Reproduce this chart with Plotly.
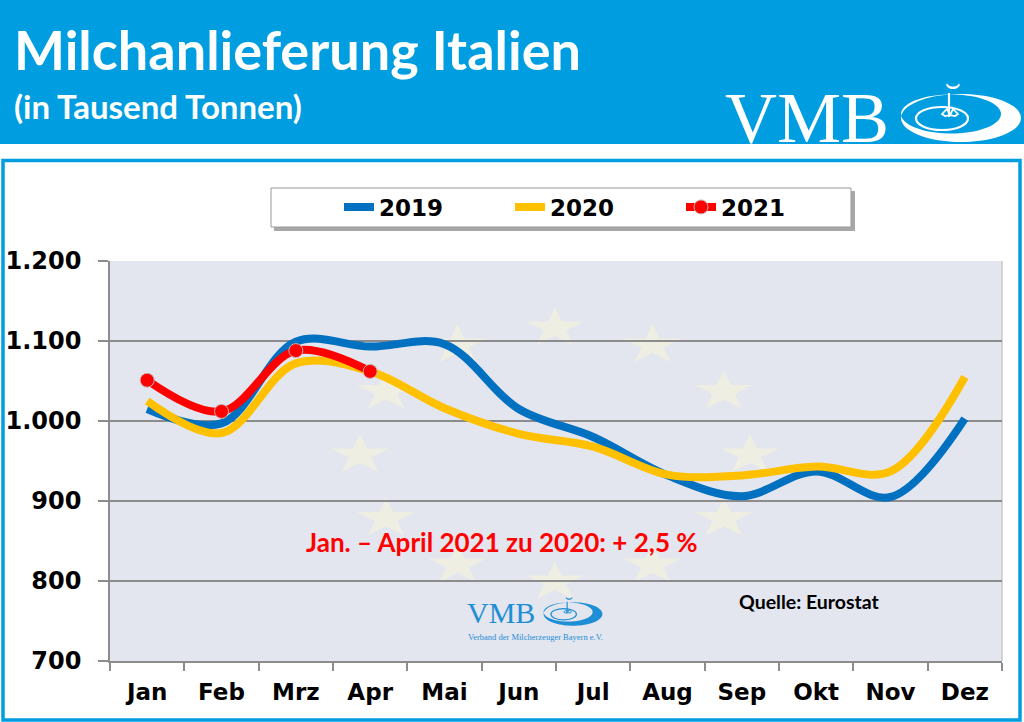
import numpy as np
import plotly.graph_objects as go

# ---------------- data ----------------
months = ["Jan", "Feb", "Mrz", "Apr", "Mai", "Jun", "Jul", "Aug", "Sep", "Okt", "Nov", "Dez"]
v2019 = [1015, 997, 1099, 1093, 1096, 1015, 980, 932, 906, 937, 905, 1003]
v2020 = [1025, 985, 1072, 1062, 1016, 984, 968, 933, 932, 943, 937, 1055]
v2021 = [1051, 1012, 1088, 1062]
y_ticks = [700, 800, 900, 1000, 1100, 1200]

# ---------------- geometry helpers (decoration only) ----------------
W, H = 1024, 722
ML, MR, MT, MB = 110, 22, 261, 61
PW, PH = W - ML - MR, H - MT - MB


def px(x):
    return (x - ML) / PW


def py(y):
    return (H - MB - y) / PH


def path_from(points_list):
    s = ""
    for pts in points_list:
        s += "M" + " L".join(f"{px(x):.5f},{py(y):.5f}" for x, y in pts) + " Z "
    return s


def ellipse_pts(cx, cy, rx, ry, n=80, reverse=False):
    t = np.linspace(0, 2 * np.pi, n, endpoint=False)
    if reverse:
        t = t[::-1]
    return list(zip(cx + rx * np.cos(t), cy + ry * np.sin(t)))


def star_pts(cx, cy, rx, ry):
    pts = []
    for k in range(10):
        a = -np.pi / 2 + k * np.pi / 5
        r = 1.0 if k % 2 == 0 else 0.382
        pts.append((cx + rx * r * np.cos(a), cy + ry * r * np.sin(a)))
    return pts


HEADER_BLUE = "#009EE0"
shapes = []

# header band
shapes.append(dict(type="rect", xref="paper", yref="paper", x0=px(0), x1=px(W), y0=py(0), y1=py(144),
                   fillcolor=HEADER_BLUE, line=dict(width=0), layer="below"))
# frame
shapes.append(dict(type="rect", xref="paper", yref="paper", x0=px(3), x1=px(1020), y0=py(160.5), y1=py(720),
                   fillcolor="rgba(0,0,0,0)", line=dict(color=HEADER_BLUE, width=3.5), layer="below"))
# plot area background
shapes.append(dict(type="rect", xref="paper", yref="paper", x0=0, x1=1, y0=0, y1=1,
                   fillcolor="#E3E5EF", line=dict(width=0), layer="below"))
# EU stars (faint background)
scx, scy, sa, sb = 555, 455, 195, 127
for k in range(12):
    ang = k * np.pi / 6
    cx = scx + sa * np.sin(ang)
    cy = scy - sb * np.cos(ang)
    shapes.append(dict(type="path", xref="paper", yref="paper", path=path_from([star_pts(cx, cy, 31, 21)]),
                       fillcolor="rgba(250,250,214,0.5)", line=dict(width=0), layer="below"))
# right border of plot area
shapes.append(dict(type="line", xref="paper", yref="paper", x0=1, x1=1, y0=0, y1=1,
                   line=dict(color="#C9C9C9", width=1.5), layer="below"))
# legend box with shadow
shapes.append(dict(type="rect", xref="paper", yref="paper", x0=px(274), x1=px(855), y0=py(191), y1=py(231),
                   fillcolor="#A8A8A8", line=dict(width=0), layer="below"))
shapes.append(dict(type="rect", xref="paper", yref="paper", x0=px(271), x1=px(851), y0=py(188), y1=py(227),
                   fillcolor="white", line=dict(color="#9A9A9A", width=1), layer="below"))


def logo(cx, cy, s, color, lw):
    out = []
    outer = ellipse_pts(cx, cy, 60 * s, 24 * s)
    inner = ellipse_pts(cx - 10 * s, cy - 4 * s, 50 * s, 19.5 * s, reverse=True)
    out.append(dict(type="path", xref="paper", yref="paper", path=path_from([outer, inner]),
                    fillcolor=color, line=dict(width=0), layer="above"))
    # inner ring
    out.append(dict(type="circle", xref="paper", yref="paper",
                    x0=px(cx - 45 * s), x1=px(cx + 7 * s), y0=py(cy - 11 * s), y1=py(cy + 12 * s),
                    fillcolor="rgba(0,0,0,0)", line=dict(color=color, width=lw), layer="above"))
    # stem
    out.append(dict(type="line", xref="paper", yref="paper",
                    x0=px(cx - 12 * s), x1=px(cx - 12 * s), y0=py(cy - 25 * s), y1=py(cy - 1 * s),
                    line=dict(color=color, width=lw), layer="above"))
    # moon
    moon_o = [(cx - 8 * s + 7 * s * np.cos(t), cy - 34 * s + 5 * s * np.sin(t)) for t in np.linspace(0.2, np.pi - 0.2, 20)]
    moon_i = [(cx - 8 * s + 6 * s * np.cos(t), cy - 35.5 * s + 4 * s * np.sin(t)) for t in np.linspace(np.pi - 0.2, 0.2, 20)]
    out.append(dict(type="path", xref="paper", yref="paper", path=path_from([moon_o + moon_i]),
                    fillcolor=color, line=dict(width=0), layer="above"))
    # leaves
    for dx, sign in ((-19, 1), (-3, -1)):
        lp = [(cx + dx * s, cy - 4 * s), (cx + (dx + sign * 5) * s, cy - 9 * s),
              (cx + (dx + sign * 8) * s, cy - 3 * s), (cx + (dx + sign * 3) * s, cy - 2 * s)]
        out.append(dict(type="path", xref="paper", yref="paper", path=path_from([lp]),
                        fillcolor="rgba(0,0,0,0)", line=dict(color=color, width=lw * 0.8), layer="above"))
    return out


shapes += logo(961, 118, 1.0, "white", 2.2)
shapes += logo(573, 614, 0.49, "#1E8FD5", 1.2)

# ---------------- traces ----------------
fig = go.Figure()
fig.add_trace(go.Scatter(x=months, y=v2019, name="2019", mode="lines",
                         line=dict(color="#0070C0", width=8, shape="spline", smoothing=1.0)))
fig.add_trace(go.Scatter(x=months, y=v2020, name="2020", mode="lines",
                         line=dict(color="#FFC000", width=8, shape="spline", smoothing=1.0)))
fig.add_trace(go.Scatter(x=months[:len(v2021)], y=v2021, name="2021", mode="lines+markers",
                         line=dict(color="#FF0000", width=8, shape="spline", smoothing=1.0),
                         marker=dict(color="#FF0000", size=14, line=dict(color="#C8B4B4", width=1))))

BOLD = dict(family="DejaVu Sans", size=23, color="black", weight="bold")

annotations = [
    dict(text="Milchanlieferung Italien", x=px(12), y=py(50), xanchor="left", yanchor="middle",
         font=dict(family="Lato", size=54, color="white", weight="bold")),
    dict(text="(in Tausend Tonnen)", x=px(12), y=py(106), xanchor="left", yanchor="middle",
         font=dict(family="Lato", size=33, color="white", weight="bold")),
    dict(text="VMB", x=px(723), y=py(118), xanchor="left", yanchor="middle",
         font=dict(family="Liberation Serif", size=72, color="white")),
    dict(text="Jan. – April 2021 zu 2020: + 2,5 %", x=px(502), y=py(542), xanchor="center", yanchor="middle",
         font=dict(family="Lato", size=26, color="#FF0000", weight="bold")),
    dict(text="Quelle: Eurostat", x=px(809), y=py(601), xanchor="center", yanchor="middle",
         font=dict(family="Lato", size=19.5, color="black", weight="bold")),
    dict(text="VMB", x=px(465), y=py(612), xanchor="left", yanchor="middle",
         font=dict(family="Liberation Serif", size=30, color="#1E8FD5")),
    dict(text="Verband der Milcherzeuger Bayern e.V.", x=px(466), y=py(637), xanchor="left", yanchor="middle",
         font=dict(family="Liberation Serif", size=8.5, color="#1E8FD5")),
]
for a in annotations:
    a.update(xref="paper", yref="paper", showarrow=False)

fig.update_layout(
    width=W, height=H,
    margin=dict(l=ML, r=MR, t=MT, b=MB, pad=0, autoexpand=False),
    paper_bgcolor="white", plot_bgcolor="rgba(0,0,0,0)",
    separators=",.",
    shapes=shapes,
    annotations=annotations,
    showlegend=True,
    legend=dict(orientation="h", x=px(339), y=py(207), xanchor="left", yanchor="middle",
                bgcolor="rgba(0,0,0,0)", borderwidth=0, font=BOLD,
                entrywidth=126, entrywidthmode="pixels", itemclick=False, itemdoubleclick=False),
    xaxis=dict(type="category", categoryorder="array", categoryarray=months, range=[-0.5, 11.5],
               showgrid=False, showline=True, linecolor="#8C8C8C", linewidth=1.5,
               ticks="outside", tickson="boundaries", ticklen=8, tickcolor="#8C8C8C", tickwidth=1.5,
               ticklabelstandoff=10, automargin=False,
               tickfont=BOLD, fixedrange=True),
    yaxis=dict(range=[700, 1200], tickvals=y_ticks, tickformat=",d", showgrid=True,
               gridcolor="#8C8C8C", gridwidth=1.5, zeroline=False,
               showline=True, linecolor="#8C8C8C", linewidth=1.5,
               ticks="outside", ticklen=10, tickcolor="#8C8C8C", tickwidth=1.5, automargin=False,
               ticklabelstandoff=12, tickfont=dict(family="DejaVu Sans", size=24, color="black", weight="bold"),
               fixedrange=True),
)

fig.write_html("out.html")
